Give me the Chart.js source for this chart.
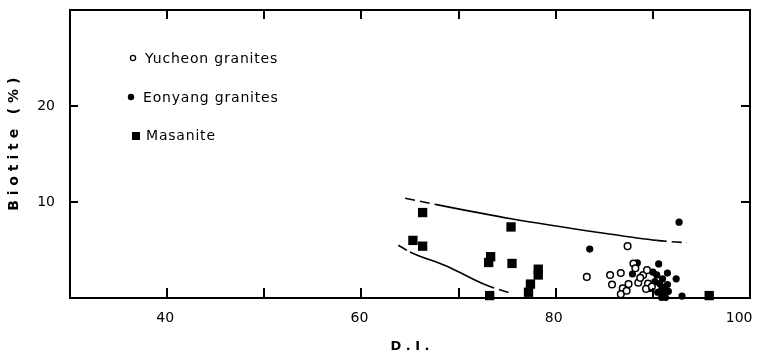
<!DOCTYPE html>
<html><head><meta charset="utf-8">
<script src="https://cdn.jsdelivr.net/npm/chart.js@4"></script>
<style>html,body{margin:0;padding:0;background:#fff}canvas{display:block}</style>
</head><body>
<canvas id="c" width="759" height="357"></canvas>
<script>
// ---- data ----
const xTickLabels = ['40', '60', '80', '100'];
const yTickLabels = ['10', '20'];

const yucheonDI      = [87.4, 83.2, 85.6, 86.7, 85.8, 86.9, 86.7, 87.3, 87.5, 88.0, 88.2, 88.5, 89.0, 89.4, 89.5, 89.3, 89.9, 88.7];
const yucheonBiotite = [5.4, 2.2, 2.4, 2.6, 1.4, 1.0, 0.4, 0.75, 1.45, 3.6, 3.1, 1.6, 2.4, 2.9, 1.5, 0.95, 1.2, 2.1];

const eonyangDI      = [83.5, 92.7, 88.4, 87.9, 90.6, 90.0, 90.4, 91.5, 92.4, 91.0, 91.5, 90.7, 90.2, 89.7, 90.9, 91.6, 91.0, 91.3, 90.9, 93.0, 90.5, 91.2];
const eonyangBiotite = [5.1, 7.9, 3.65, 2.5, 3.55, 2.7, 2.4, 2.6, 2.0, 2.0, 1.4, 1.5, 1.7, 1.0, 0.9, 0.7, 0.4, 0.05, 0.05, 0.2, 0.6, 1.1];

const masaniteDI      = [66.3, 65.3, 66.3, 75.4, 73.3, 73.1, 75.5, 78.2, 78.2, 77.4, 77.2, 73.2, 95.8];
const masaniteBiotite = [8.9, 6.0, 5.4, 7.4, 4.3, 3.7, 3.6, 3.0, 2.4, 1.45, 0.6, 0.25, 0.25];

const upperDI      = [64.5, 67.6, 75.4, 84.6, 90.4, 93.5];
const upperBiotite = [10.4, 9.75, 8.25, 6.8, 6.0, 5.75];
const upperDashed  = [0, 4];

const lowerDI      = [63.8, 65.0, 68.8, 72.7, 75.5];
const lowerBiotite = [5.5, 4.8, 3.3, 1.4, 0.45];
const lowerDashed  = [0, 3];

const seriesNames = ['Yucheon granites', 'Eonyang granites', 'Masanite'];

const toXY = (xs, ys) => xs.map((x, i) => ({x, y: ys[i]}));
const FONT = '"DejaVu Sans", sans-serif';

const dashSeg = (list) => (ctx) => list.includes(ctx.p0DataIndex) ? [10, 5] : [];

const frameTicks = {
  id: 'frameTicks',
  afterDatasetsDraw(chart) {
    const {ctx, chartArea: a, scales: {x, y}} = chart;
    ctx.save();
    ctx.strokeStyle = '#000';
    ctx.setLineDash([]);
    ctx.lineWidth = 2;
    ctx.strokeRect(a.left, a.top, a.right - a.left, a.bottom - a.top);
    const xs = x.ticks.map(t => t.value).filter(v => v > x.min && v < x.max);
    const ys = y.ticks.map(t => t.value).filter(v => v > y.min && v < y.max);
    ctx.lineWidth = 2;
    xs.forEach(v => {
      const px = Math.round(x.getPixelForValue(v));
      ctx.beginPath();
      ctx.moveTo(px, a.bottom); ctx.lineTo(px, a.bottom - 10);
      ctx.moveTo(px, a.top); ctx.lineTo(px, a.top + 9);
      ctx.stroke();
    });
    ys.forEach(v => {
      const py = Math.round(y.getPixelForValue(v));
      ctx.beginPath();
      ctx.moveTo(a.left, py); ctx.lineTo(a.left + 8, py);
      ctx.moveTo(a.right, py); ctx.lineTo(a.right - 9, py);
      ctx.stroke();
    });
    ctx.restore();
  }
};

const innerLegend = {
  id: 'innerLegend',
  afterDraw(chart) {
    const {ctx} = chart;
    const items = [
      {sym: 'open',  sx: 133, sy: 58,  tx: 145, ty: 63},
      {sym: 'fill',  sx: 131, sy: 97,  tx: 143, ty: 102},
      {sym: 'rect',  sx: 136, sy: 136, tx: 146, ty: 140}
    ];
    ctx.save();
    ctx.fillStyle = '#000'; ctx.strokeStyle = '#000';
    ctx.font = '14px ' + FONT;
    try { ctx.letterSpacing = '0.8px'; } catch (e) {}
    ctx.textBaseline = 'alphabetic';
    ctx.textAlign = 'left';
    items.forEach((it, i) => {
      ctx.beginPath();
      if (it.sym === 'open') {
        ctx.lineWidth = 1.3;
        ctx.arc(it.sx, it.sy, 2.6, 0, Math.PI * 2); ctx.stroke();
      } else if (it.sym === 'fill') {
        ctx.arc(it.sx, it.sy, 3.2, 0, Math.PI * 2); ctx.fill();
      } else {
        ctx.fillRect(it.sx - 4, it.sy - 4, 8, 8);
      }
      ctx.fillText(chart.data.datasets[i].label, it.tx, it.ty);
    });
    ctx.restore();
  }
};

new Chart(document.getElementById('c'), {
  type: 'scatter',
  data: {
    datasets: [
      {label: seriesNames[0], data: toXY(yucheonDI, yucheonBiotite), pointStyle: 'circle', pointRadius: 3.3,
       borderWidth: 1.5, borderColor: '#000', backgroundColor: '#fff', clip: false},
      {label: seriesNames[1], data: toXY(eonyangDI, eonyangBiotite), pointStyle: 'circle', pointRadius: 3.6,
       borderWidth: 0, borderColor: '#000', backgroundColor: '#000', clip: false},
      {label: seriesNames[2], data: toXY(masaniteDI, masaniteBiotite), pointStyle: 'rect', pointRadius: 6.6,
       borderWidth: 0, borderColor: '#000', backgroundColor: '#000', clip: false},
      {type: 'line', label: 'upper', data: toXY(upperDI, upperBiotite), showLine: true, pointRadius: 0,
       borderColor: '#000', borderWidth: 1.6, fill: false, cubicInterpolationMode: 'monotone',
       segment: {borderDash: dashSeg(upperDashed)}},
      {type: 'line', label: 'lower', data: toXY(lowerDI, lowerBiotite), showLine: true, pointRadius: 0,
       borderColor: '#000', borderWidth: 1.6, fill: false, cubicInterpolationMode: 'monotone',
       segment: {borderDash: dashSeg(lowerDashed)}}
    ]
  },
  options: {
    responsive: false,
    devicePixelRatio: 1,
    animation: false,
    events: [],
    layout: {padding: {top: 10, right: 9, left: 0, bottom: 0}},
    plugins: {legend: {display: false}, tooltip: {enabled: false}},
    scales: {
      x: {
        type: 'linear', min: 30, max: 100,
        grid: {display: false, drawTicks: false},
        border: {display: false},
        ticks: {
          stepSize: 10, color: '#000', padding: 12, labelOffset: -2, maxRotation: 0, autoSkip: false,
          font: {family: FONT, size: 14},
          callback: (v) => {
            const s = String(v);
            if (!xTickLabels.includes(s)) return '';
            return s === '100' ? s + '    ' : s;
          }
        },
        title: {display: true, text: 'D . I .', color: '#000', font: {family: FONT, size: 13, weight: 'bold'},
                padding: {top: 0, bottom: 3}},
        afterFit: (s) => { s.height = 59; s.paddingLeft = 0; s.paddingRight = 0; }
      },
      y: {
        type: 'linear', min: 0, max: 30,
        grid: {display: false, drawTicks: false},
        border: {display: false},
        ticks: {
          stepSize: 10, color: '#000', padding: 15,
          font: {family: FONT, size: 14},
          callback: (v) => yTickLabels.includes(String(v)) ? String(v) : ''
        },
        title: {display: true, text: '    B i o t i t e   ( % )', color: '#000',
                font: {family: FONT, size: 14, weight: 'bold'}, padding: {top: 6, bottom: 0}},
        afterFit: (s) => { s.width = 70; s.paddingTop = 0; s.paddingBottom = 0; }
      }
    }
  },
  plugins: [frameTicks, innerLegend]
});
</script>
</body></html>
